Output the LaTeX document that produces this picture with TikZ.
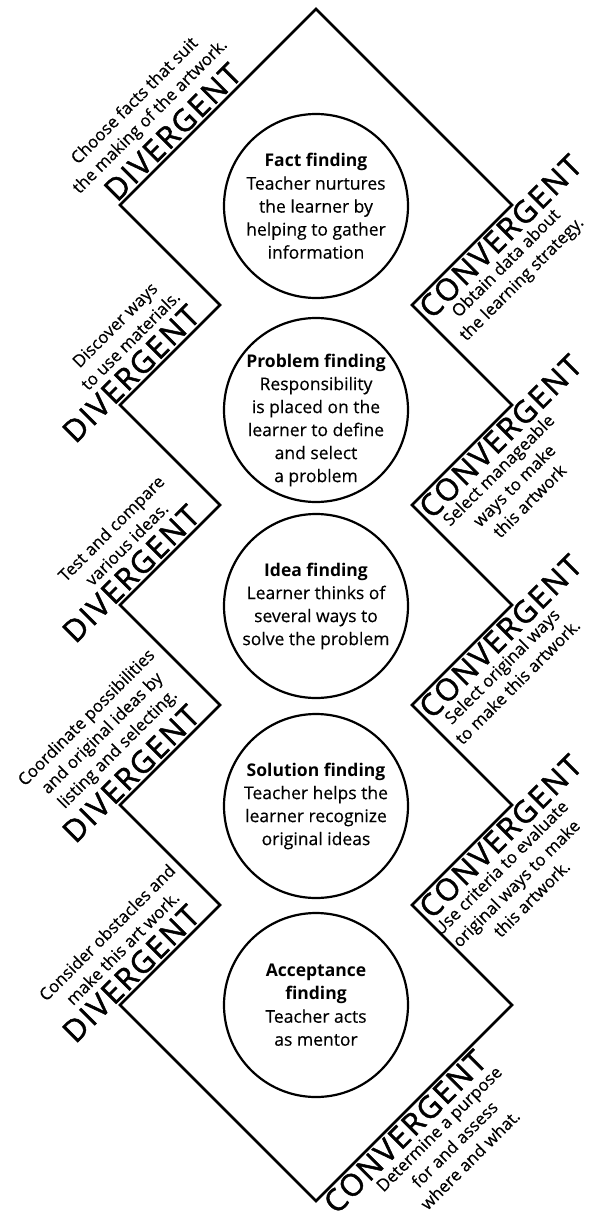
\documentclass[tikz,border=0pt]{standalone}
\usepackage{fontspec}
\setmainfont{Open Sans}[UprightFeatures={FakeBold=0.4}]
\newfontfamily\wordfont{Open Sans}[LetterSpace=6.0,FakeBold=1.6]
\usetikzlibrary{calc}

\begin{document}
\begin{tikzpicture}[x=1pt,y=-1pt,line join=miter,
  ring/.style={draw,circle,line width=2.2pt,minimum size=184pt,inner sep=0pt},
  ringtext/.style={align=center,font=\fontsize{17.5}{23}\selectfont},
  divword/.style={rotate=45,anchor=south,inner sep=3pt,font=\wordfont\fontsize{30.5}{34}\selectfont},
  convword/.style={rotate=45,anchor=north,inner sep=2.5pt,font=\wordfont\fontsize{30.5}{34}\selectfont},
  divnote/.style={rotate=45,anchor=south,align=center,inner sep=3pt,font=\fontsize{17}{22}\selectfont},
  convnote/.style={rotate=45,anchor=north,align=center,inner sep=1.5pt,font=\fontsize{17}{22}\selectfont}]
  \useasboundingbox (0,0) rectangle (593,1220);
  % zigzag outline
  \draw[line width=2.6pt] (316,9) -- (512,205) -- (412,305) -- (512,405) -- (412,505)
    -- (512,605) -- (412,705) -- (512,805) -- (412,905) -- (512,1005) -- (316,1201)
    -- (120,1005) -- (220,905) -- (120,805) -- (220,705) -- (120,605) -- (220,505)
    -- (120,405) -- (220,305) -- (120,205) -- cycle;
  % stages
  \node[ring] (c1) at (316,206) {};
  \node[ring] (c2) at (316,410) {};
  \node[ring] (c3) at (316,606) {};
  \node[ring] (c4) at (316,806) {};
  \node[ring] (c5) at (316,1005) {};
  \node[ringtext] (t1) at (c1) {\textbf{Fact finding}\\Teacher nurtures\\the learner by\\helping to gather\\information};
  \node[ringtext] (t2) at ([yshift=-10pt]c2.center) {\textbf{Problem finding}\\Responsibility\\is placed on the\\learner to define\\and select\\a problem};
  \node[ringtext] (t3) at (c3) {\textbf{Idea finding}\\Learner thinks of\\several ways to\\solve the problem};
  \node[ringtext] (t4) at (c4) {\textbf{Solution finding}\\Teacher helps the\\learner recognize\\original ideas};
  \node[ringtext] (t5) at (c5) {\textbf{Acceptance}\\\textbf{finding}\\Teacher acts\\as mentor};
  % left side
  \node[divword] (dv1) at (182.8,142.2) {DIVERGENT};
  \node[divnote] (dn1) at ($(dv1.north)+(-3.5,3.5)$) {Choose facts that suit\\the making of the artwork.};
  \node[divword] (dv2) at (141.2,383.8) {DIVERGENT};
  \node[divnote] (dn2) at ($(dv2.north)+(16.3,-16.3)$) {Discover ways\\to use materials.};
  \node[divword] (dv3) at (141.2,583.8) {DIVERGENT};
  \node[divnote] (dn3) at ($(dv3.north)+(12.7,-12.7)$) {Test and compare\\various ideas.};
  \node[divword] (dv4) at (141.2,783.8) {DIVERGENT};
  \node[divnote] (dn4) at ($(dv4.north)+(5.7,-5.7)$) {Coordinate possibilities\\and original ideas by\\listing and selecting.};
  \node[divword] (dv5) at (141.2,983.8) {DIVERGENT};
  \node[divnote] (dn5) at ($(dv5.north)+(8.5,-8.5)$) {Consider obstacles and\\make this art work.};
  % right side
  \node[convword] (cv1) at (490.5,226.5) {CONVERGENT};
  \node[convnote] (cn1) at ($(cv1.south)+(-10.6,10.6)$) {Obtain data about\\the learning strategy.};
  \node[convword] (cv2) at (490.5,426.5) {CONVERGENT};
  \node[convnote] (cn2) at ($(cv2.south)+(-17.7,17.7)$) {Select manageable\\ways to make\\this artwork};
  \node[convword] (cv3) at (490.5,626.5) {CONVERGENT};
  \node[convnote] (cn3) at ($(cv3.south)+(-14.1,14.1)$) {Select original ways\\to make this artwork.};
  \node[convword] (cv4) at (490.5,826.5) {CONVERGENT};
  \node[convnote] (cn4) at ($(cv4.south)+(-15.6,15.6)$) {Use criteria to evaluate\\original ways to make\\this artwork.};
  \node[convword] (cv5) at (395.2,1121.8) {CONVERGENT};
  \node[convnote] (cn5) at ($(cv5.south)+(18.4,-18.4)$) {Determine a purpose\\for and assess\\where and what.};
\end{tikzpicture}
\end{document}
